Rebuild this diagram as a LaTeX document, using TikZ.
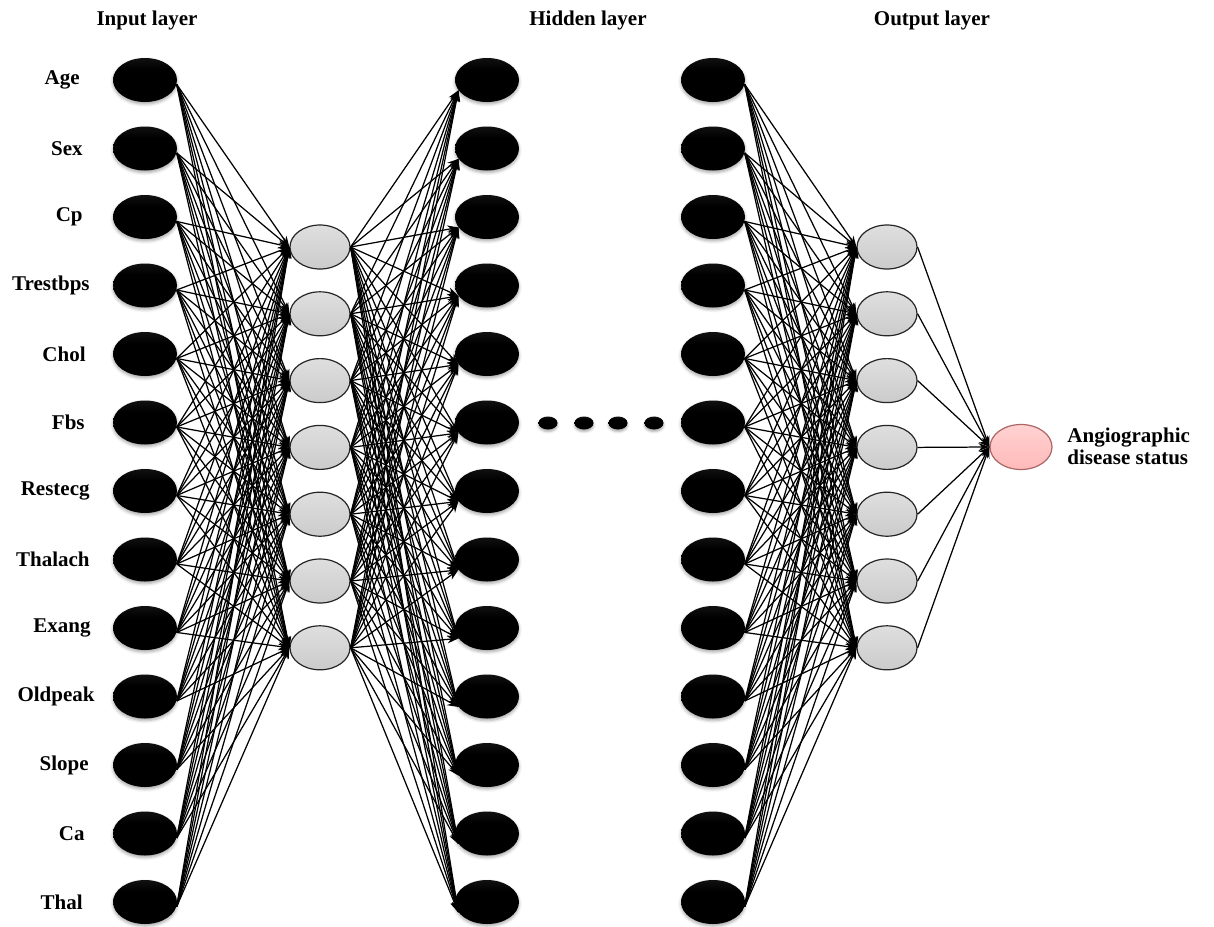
\documentclass[tikz,border=0pt]{standalone}
\usepackage{fontspec}
\setmainfont{Liberation Serif}
\usetikzlibrary{arrows.meta,shapes.geometric,shadows.blur}

% glossy black: dark body, faint highlight along the upper rim
\pgfdeclareverticalshading{glossblack}{100bp}{color(0bp)=(black); color(62bp)=(black); color(86bp)=(black!88); color(100bp)=(black!50)}
\pgfdeclareverticalshading{softgray}{100bp}{color(0bp)=(black!24); color(100bp)=(black!9)}
\pgfdeclareverticalshading{softred}{100bp}{color(0bp)=(red!32); color(100bp)=(red!13)}

\begin{document}
\begin{tikzpicture}[x=0.5pt,y=-0.5pt,
  blk/.style={ellipse, inner sep=0pt, minimum width=32pt, minimum height=22pt,
    shading=glossblack,
    blur shadow={shadow xshift=0pt, shadow yshift=-1pt, shadow blur radius=1.5pt, shadow opacity=35}},
  dotn/.style={ellipse, inner sep=0pt, minimum width=9.5pt, minimum height=6.5pt,
    shading=glossblack,
    blur shadow={shadow xshift=0pt, shadow yshift=-1pt, shadow blur radius=1.2pt, shadow opacity=35}},
  hid/.style={ellipse, inner sep=0pt, minimum width=30pt, minimum height=22pt,
    draw=black!85, line width=0.6pt, shading=softgray},
  outn/.style={ellipse, inner sep=0pt, minimum width=31pt, minimum height=22.5pt,
    draw=red!45!black!60, line width=0.6pt, shading=softred},
  txt/.style={font=\bfseries\fontsize{10.5}{11}\selectfont, inner sep=0pt},
  lbl/.style={txt, anchor=east},
  wire/.style={line width=0.62pt, -{Stealth[length=5.5pt,width=4pt]}}
]
\useasboundingbox (0,0) rectangle (1214,926);

% layer titles
\node[txt] (tin)  at (147,20) {Input layer};
\node[txt] (thid) at (588,20) {Hidden layer};
\node[txt] (tout) at (932,20) {Output layer};

% input features and the two black stacks
\foreach \nm/\rx [count=\i from 0] in {Age/80,Sex/83,Cp/83,Trestbps/90,Chol/86,Fbs/85,Restecg/90,Thalach/90,Exang/91,Oldpeak/95,Slope/89,Ca/85,Thal/83} {
  \node[blk] (a\i) at (145,{80+68.5*\i}) {};
  \node[lbl] (la\i) at (\rx,{80+68.5*\i}) {\nm};
  \node[blk] (b\i) at (487,{80+68.5*\i}) {};
  \node[blk] (c\i) at (713,{80+68.5*\i}) {};
}

% hidden units
\foreach \j in {0,...,6} {
  \node[hid] (h\j) at (320,{247+66.8*\j}) {};
  \node[hid] (g\j) at (887,{247+66.8*\j}) {};
}

% output unit
\node[outn] (o) at (1021,447) {};
\node[txt, anchor=west, align=left] (ol) at (1067,446) {Angiographic\\disease status};

% ellipsis between the hidden stacks
\foreach \x [count=\k] in {548,584,618,654}
  \node[dotn] (d\k) at (\x,423) {};

% connections
\foreach \i in {0,...,12}
  \foreach \j in {0,...,6}
    \draw[wire] (a\i.-8) -- (h\j.west);
\foreach \j in {0,...,6}
  \foreach \i in {0,...,12}
    \draw[wire] (h\j.east) -- (b\i.200);
\foreach \i in {0,...,12}
  \foreach \j in {0,...,6}
    \draw[wire] (c\i.-8) -- (g\j.west);
\foreach \j in {0,...,6}
  \draw[wire] (g\j.east) -- (o.west);
\end{tikzpicture}
\end{document}
